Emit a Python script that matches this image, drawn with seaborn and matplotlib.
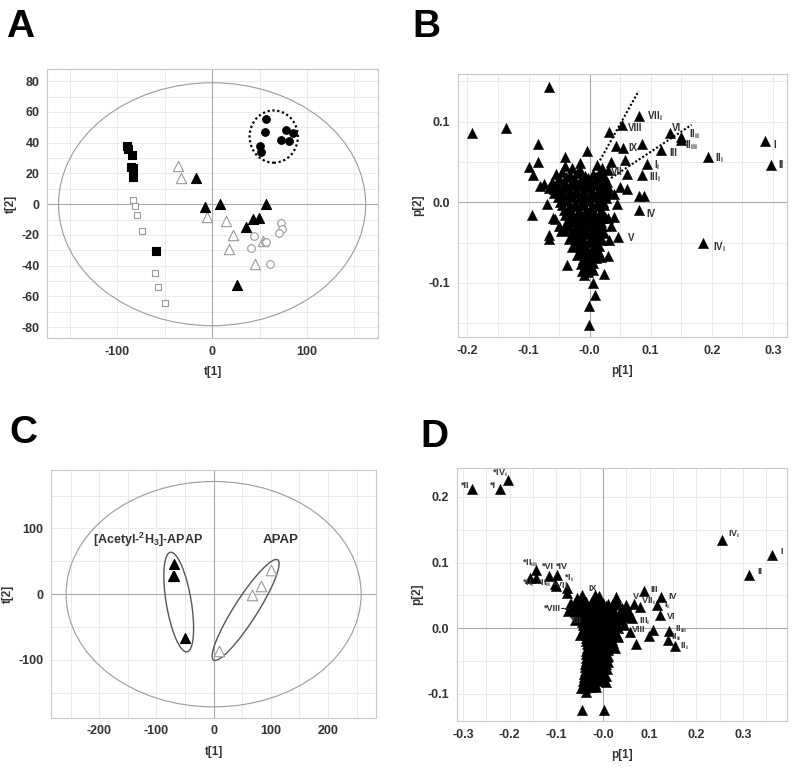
import seaborn as sns
import matplotlib.pyplot as plt
from matplotlib.patches import Ellipse
from matplotlib.ticker import MultipleLocator, FixedLocator
from matplotlib.transforms import ScaledTranslation

# ---------------- Panel A: scores ----------------
a_fsq_x = [-90, -88.5, -85, -86, -83.6, -84, -59.4]
a_fsq_y = [37.8, 35.6, 32, 24, 23.5, 17.7, -30.2]
a_osq_x = [-83.6, -81.8, -79, -74.5, -60, -56.6, -50]
a_osq_y = [2.6, -1, -7, -17.3, -45, -53.6, -64.4]
a_otri_x = [-36.4, -33.2, -4.9, 14.7, 22, 17.5, 53.8, 45]
a_otri_y = [25, 17.3, -8.6, -10.8, -20.3, -29, -23.8, -38.9]
a_ftri_x = [-17.5, -8, 8.7, 56.6, 43.4, 49, 36, 26.6]
a_ftri_y = [17.3, -1.7, 0, 0.4, -9.7, -9, -15, -52.7]
a_ocir_x = [44.4, 40.6, 55.5, 57.3, 73, 74, 70.6, 61.5]
a_ocir_y = [-20.7, -28.3, -24.8, -24.8, -12.1, -16.4, -18.4, -39.1]
a_fcir_x = [57.3, 56.3, 78.3, 85.3, 72.4, 81.5, 51, 51.7]
a_fcir_y = [55.5, 47.3, 48.6, 46.4, 41.5, 41, 37.8, 33.9]

# ---------------- Panel B: loadings ----------------
b_outliers = [(-0.0667, 0.1424), (-0.192, 0.0853), (-0.137, 0.0923), (0.2866, 0.0762),
              (0.2976, 0.0464), (0.194, 0.0563), (0.185, -0.0505), (0.0804, 0.1068),
              (0.0536, 0.0952), (0.1318, 0.0853), (0.15, 0.0803), (0.149, 0.077),
              (0.1165, 0.0646), (0.0935, 0.048), (0.0864, 0.034), (0.0553, 0.0667),
              (0.0853, 0.072), (0.0323, 0.0874), (0.0427, 0.07), (0.0355, 0.0493),
              (0.0574, 0.053), (0.0613, 0.0356), (0.081, 0.0075), (0.089, 0.0075),
              (0.081, -0.01), (0.047, -0.043), (0.0317, -0.047), (0.0306, -0.0667),
              (0.0235, -0.0894), (0.0088, -0.1147), (0.006, -0.1), (-0.001, -0.129),
              (-0.001, -0.152), (-0.037, -0.078), (-0.0088, -0.09), (-0.0935, -0.016),
              (-0.0563, -0.0203), (-0.066, -0.041), (-0.067, -0.0455), (-0.0705, -0.0017),
              (-0.1, 0.0439), (-0.0924, 0.034), (-0.0837, 0.0497), (-0.0837, 0.072),
              (-0.0405, 0.0555), (-0.0159, 0.0489), (-0.005, 0.0633), (0.0443, -0.0017),
              (0.0405, -0.0182), (0.05, 0.019), (0.0607, 0.0166), (-0.075, 0.0232),
              (-0.0815, 0.0207)]
b_cloud = [(-0.04, 0.045), (-0.028, 0.043), (0.012, 0.046), (0.02, 0.042), (-0.015, 0.04),
           (-0.055, 0.035), (-0.045, 0.037), (-0.032, 0.034), (-0.02, 0.036), (-0.008, 0.033),
           (0.005, 0.035), (0.016, 0.036), (0.024, 0.032),
           (-0.062, 0.025), (-0.05, 0.027), (-0.04, 0.024), (-0.028, 0.026), (-0.016, 0.025),
           (-0.004, 0.024), (0.008, 0.026), (0.018, 0.023), (0.028, 0.025),
           (-0.066, 0.018), (-0.058, 0.016), (-0.046, 0.014), (-0.034, 0.016), (-0.022, 0.015),
           (-0.01, 0.014), (0.002, 0.016), (0.013, 0.014), (0.024, 0.015), (0.032, 0.012),
           (-0.052, 0.006), (-0.041, 0.004), (-0.03, 0.006), (-0.018, 0.005), (-0.006, 0.004),
           (0.006, 0.006), (0.017, 0.004), (0.027, 0.005),
           (-0.045, -0.004), (-0.034, -0.006), (-0.022, -0.005), (-0.01, -0.004),
           (0.002, -0.006), (0.013, -0.005), (0.024, -0.004),
           (-0.04, -0.016), (-0.029, -0.014), (-0.018, -0.015), (-0.006, -0.016),
           (0.006, -0.014), (0.017, -0.015), (0.026, -0.018),
           (-0.038, -0.026), (-0.027, -0.024), (-0.016, -0.025), (-0.004, -0.026),
           (0.007, -0.024), (0.018, -0.025),
           (-0.042, -0.034), (-0.03, -0.036), (-0.019, -0.035), (-0.008, -0.034),
           (0.004, -0.036), (0.015, -0.035), (0.024, -0.038),
           (-0.034, -0.046), (-0.022, -0.044), (-0.011, -0.045), (0.0, -0.046),
           (0.011, -0.044), (0.02, -0.047),
           (-0.028, -0.056), (-0.017, -0.054), (-0.006, -0.055), (0.005, -0.056), (0.015, -0.054),
           (-0.02, -0.066), (-0.01, -0.064), (0.0, -0.065), (0.01, -0.066), (0.018, -0.068),
           (-0.014, -0.076), (-0.004, -0.074), (0.006, -0.075),
           (-0.012, -0.085), (-0.002, -0.086), (0.006, -0.084),
           (-0.05, -0.03), (-0.06, -0.02), (-0.046, -0.036), (0.03, -0.02), (0.035, -0.03),
           (0.04, 0.01), (0.03, 0.04)]
b_core = [(-0.05, 0.03), (-0.038, 0.031), (-0.026, 0.03), (-0.014, 0.029), (-0.002, 0.03),
          (0.01, 0.031), (0.021, 0.029),
          (-0.06, 0.021), (-0.052, 0.02), (-0.04, 0.019), (-0.028, 0.021), (-0.016, 0.02),
          (-0.004, 0.019), (0.008, 0.021), (0.02, 0.02), (0.03, 0.019),
          (-0.058, 0.011), (-0.046, 0.009), (-0.034, 0.01), (-0.022, 0.011), (-0.01, 0.009),
          (0.002, 0.01), (0.014, 0.011), (0.025, 0.009),
          (-0.048, 0.0), (-0.036, 0.001), (-0.024, -0.001), (-0.012, 0.0), (0.0, 0.001),
          (0.012, -0.001), (0.022, 0.0),
          (-0.042, -0.01), (-0.03, -0.011), (-0.018, -0.009), (-0.006, -0.01), (0.006, -0.011),
          (0.018, -0.009),
          (-0.034, -0.02), (-0.022, -0.021), (-0.01, -0.019), (0.002, -0.02), (0.013, -0.021),
          (0.022, -0.019),
          (-0.034, -0.03), (-0.022, -0.031), (-0.01, -0.029), (0.002, -0.03), (0.012, -0.031),
          (0.02, -0.029),
          (-0.028, -0.04), (-0.016, -0.041), (-0.005, -0.039), (0.006, -0.04), (0.016, -0.041),
          (-0.022, -0.05), (-0.011, -0.051), (0.0, -0.049), (0.01, -0.05),
          (-0.015, -0.06), (-0.005, -0.061), (0.005, -0.059), (0.014, -0.06),
          (-0.01, -0.07), (0.0, -0.071), (0.01, -0.069),
          (-0.008, -0.08), (0.002, -0.079)]
b_labels = [(r'VII$_{i}$', 0.0935, 0.1068), ('VIII', 0.0635, 0.0923), ('VI', 0.1357, 0.0923),
            (r'II$_{ii}$', 0.1636, 0.084), (r'II$_{iii}$', 0.1565, 0.0705), ('III', 0.1307, 0.0613),
            (r'I$_{i}$', 0.1056, 0.0464), (r'III$_{i}$', 0.0968, 0.0315), ('IX', 0.0635, 0.0667),
            ('VII', 0.0345, 0.0377), (r'II$_{i}$', 0.2057, 0.055), ('I', 0.3014, 0.0716),
            ('II', 0.31, 0.0464), ('IV', 0.0935, -0.014), ('V', 0.0624, -0.0447),
            (r'IV$_{i}$', 0.2019, -0.0555)]
b_guides = [([0.017, 0.0804], [0.052, 0.138]), ([0.035, 0.167], [0.03, 0.096])]

# ---------------- Panel C: scores ----------------
c_d3_x = [-69, -71.2, -70, -49.6]
c_d3_y = [45.7, 28, 27, -67]
c_apap_x = [100, 83.5, 66.6, 10]
c_apap_y = [37, 12.7, -1.5, -86.3]

# ---------------- Panel D: loadings ----------------
d_outliers = [(-0.281, 0.2127), (-0.22, 0.2117), (-0.2036, 0.2254), (0.2557, 0.135),
              (0.363, 0.1122), (0.314, 0.0807), (-0.143, 0.0893), (-0.157, 0.077),
              (-0.144, 0.0766), (-0.1157, 0.0797), (-0.098, 0.0817), (-0.103, 0.0665),
              (-0.1014, 0.0635), (-0.0764, 0.0614), (-0.0764, 0.0538), (-0.075, 0.0259),
              (-0.068, 0.036), (-0.059, 0.012), (-0.0179, 0.05), (-0.0086, 0.049),
              (0.0286, 0.0467), (0.03, 0.0416), (0.0886, 0.0569), (0.124, 0.0467),
              (0.0657, 0.036), (0.08, 0.032), (0.1157, 0.035), (0.1229, 0.0198),
              (0.062, 0.0152), (0.057, -0.0056), (0.107, -0.003), (0.0986, -0.0122),
              (0.1407, -0.004), (0.139, -0.0183), (0.1536, -0.0274), (0.07, -0.0244),
              (-0.0443, -0.1249), (0.003, -0.1249), (-0.046, -0.092), (-0.0357, -0.097),
              (-0.0143, -0.0893), (0.007, -0.0817), (0.047, 0.0274), (0.054, 0.017),
              (0.032, -0.013), (0.021, -0.023)]
d_cloud = [(-0.06, 0.038), (-0.048, 0.042), (-0.036, 0.04), (-0.024, 0.041), (-0.012, 0.039),
           (0.0, 0.038), (0.012, 0.036),
           (-0.066, 0.031), (-0.054, 0.029), (-0.042, 0.031), (-0.03, 0.03), (-0.018, 0.029),
           (-0.006, 0.031), (0.006, 0.029), (0.018, 0.03), (0.04, 0.03),
           (-0.05, 0.02), (-0.038, 0.019), (-0.026, 0.021), (-0.014, 0.02), (-0.002, 0.019),
           (0.01, 0.021), (0.022, 0.02), (0.034, 0.022), (0.045, 0.02),
           (-0.044, 0.01), (-0.032, 0.009), (-0.02, 0.011), (-0.008, 0.01), (0.004, 0.009),
           (0.016, 0.011), (0.028, 0.01), (0.04, 0.012),
           (-0.04, 0.0), (-0.028, -0.001), (-0.016, 0.001), (-0.004, 0.0), (0.008, -0.001),
           (0.02, 0.001), (0.032, 0.0),
           (-0.037, -0.01), (-0.025, -0.011), (-0.013, -0.009), (-0.001, -0.01), (0.011, -0.011),
           (0.024, -0.009),
           (-0.036, -0.02), (-0.024, -0.021), (-0.012, -0.019), (0.0, -0.02), (0.012, -0.021),
           (0.02, -0.018),
           (-0.035, -0.03), (-0.023, -0.031), (-0.011, -0.029), (0.001, -0.03), (0.012, -0.031),
           (-0.036, -0.04), (-0.024, -0.041), (-0.012, -0.039), (0.0, -0.04), (0.012, -0.042),
           (-0.037, -0.05), (-0.025, -0.051), (-0.013, -0.049), (-0.001, -0.05), (0.01, -0.052),
           (-0.038, -0.06), (-0.026, -0.061), (-0.014, -0.059), (-0.002, -0.06), (0.008, -0.062),
           (-0.04, -0.07), (-0.028, -0.071), (-0.016, -0.069), (-0.004, -0.07), (0.006, -0.073),
           (-0.042, -0.08), (-0.03, -0.081), (-0.018, -0.079), (-0.006, -0.08),
           (-0.038, -0.091), (-0.026, -0.09),
           (-0.07, 0.036), (-0.056, 0.046), (-0.045, 0.05), (0.05, 0.035), (0.055, 0.025),
           (0.045, 0.005), (0.03, -0.01), (0.025, -0.03), (-0.05, -0.01)]
d_core = [(-0.054, 0.035), (-0.042, 0.036), (-0.03, 0.034), (-0.018, 0.035), (-0.006, 0.036),
          (0.006, 0.034), (0.02, 0.035), (0.03, 0.036),
          (-0.06, 0.025), (-0.048, 0.026), (-0.036, 0.024), (-0.024, 0.025), (-0.012, 0.026),
          (0.0, 0.024), (0.012, 0.025), (0.024, 0.026), (0.036, 0.024),
          (-0.046, 0.015), (-0.034, 0.016), (-0.022, 0.014), (-0.01, 0.015), (0.002, 0.016),
          (0.014, 0.014), (0.026, 0.015), (0.036, 0.016),
          (-0.042, 0.005), (-0.03, 0.006), (-0.018, 0.004), (-0.006, 0.005), (0.006, 0.006),
          (0.018, 0.004), (0.03, 0.005),
          (-0.038, -0.005), (-0.026, -0.004), (-0.014, -0.006), (-0.002, -0.005), (0.01, -0.004),
          (0.022, -0.006),
          (-0.036, -0.015), (-0.024, -0.014), (-0.012, -0.016), (0.0, -0.015), (0.012, -0.014),
          (-0.035, -0.025), (-0.023, -0.024), (-0.011, -0.026), (0.001, -0.025), (0.01, -0.024),
          (-0.036, -0.035), (-0.024, -0.034), (-0.012, -0.036), (0.0, -0.035), (0.01, -0.034),
          (-0.036, -0.045), (-0.024, -0.044), (-0.012, -0.046), (0.0, -0.045), (0.009, -0.044),
          (-0.038, -0.055), (-0.026, -0.054), (-0.014, -0.056), (-0.002, -0.055), (0.006, -0.054),
          (-0.039, -0.065), (-0.027, -0.064), (-0.015, -0.066), (-0.003, -0.065),
          (-0.041, -0.075), (-0.029, -0.074), (-0.017, -0.076), (-0.005, -0.075),
          (-0.04, -0.085), (-0.028, -0.084), (-0.016, -0.086)]
d_labels = [(r'*IV$_{i}$', -0.237, 0.2365), ('*II', -0.305, 0.2178), ('*I', -0.241, 0.2178),
            (r'IV$_{i}$', 0.269, 0.1426), ('I', 0.381, 0.117), ('II', 0.331, 0.0858),
            (r'*II$_{iii}$', -0.173, 0.0985), ('*VI', -0.13, 0.0934), ('*IV', -0.1, 0.0934),
            (r'*II$_{i}$', -0.1736, 0.069), (r'*II$_{ii}$', -0.1407, 0.068),
            (r'*I$_{i}$', -0.0836, 0.0756), (r'*VII$_{i}$', -0.1086, 0.064),
            ('*VIII', -0.127, 0.03), ('*III', -0.068, 0.0122), ('IX', -0.0307, 0.0604),
            ('III', 0.1014, 0.0594), ('IV', 0.1407, 0.0477), ('V', 0.0643, 0.0487),
            (r'VII$_{i}$', 0.0807, 0.0416), (r'I$_{i}$', 0.1307, 0.035), ('VI', 0.1379, 0.0173),
            (r'III$_{i}$', 0.0764, 0.0112), ('VIII', 0.062, -0.002), (r'II$_{iii}$', 0.1536, -0.002),
            (r'II$_{ii}$', 0.146, -0.0142), (r'II$_{i}$', 0.1657, -0.0284)]
d_guide = ([-0.09, -0.075], [0.03, 0.03])

sns.set_style("white")
plt.rcParams['font.family'] = ['Liberation Sans', 'DejaVu Sans']
plt.rcParams['font.weight'] = 'bold'
plt.rcParams['axes.unicode_minus'] = False
plt.rcParams['mathtext.fontset'] = 'custom'
plt.rcParams['mathtext.rm'] = 'Liberation Sans:bold'
plt.rcParams['mathtext.it'] = 'Liberation Sans:bold'
plt.rcParams['mathtext.bf'] = 'Liberation Sans:bold'
plt.rcParams['mathtext.default'] = 'rm'

fig = plt.figure(figsize=(8, 7.71), dpi=100)
axA = fig.add_axes([0.059, 0.5616, 0.4135, 0.349])
axB = fig.add_axes([0.5725, 0.563, 0.411, 0.341])
axC = fig.add_axes([0.064, 0.0691, 0.406, 0.3213])
axD = fig.add_axes([0.571, 0.0649, 0.4125, 0.328])

TXT = '#333333'


def style(ax, xlim, ylim, xmaj, xmin, ymaj, ymin, xlab, ylab, xticklabels=None, yticklabels=None):
    ax.set_xlim(xlim)
    ax.set_ylim(ylim)
    ax.xaxis.set_major_locator(FixedLocator(xmaj))
    ax.yaxis.set_major_locator(FixedLocator(ymaj))
    ax.xaxis.set_minor_locator(MultipleLocator(xmin))
    ax.yaxis.set_minor_locator(MultipleLocator(ymin))
    if xticklabels:
        ax.set_xticklabels(xticklabels)
    if yticklabels:
        ax.set_yticklabels(yticklabels)
    ax.grid(True, which='both', color='#e6e6e6', lw=0.6, zorder=0)
    ax.set_axisbelow(True)
    ax.axhline(0, color='#a8a8a8', lw=0.8, zorder=1)
    ax.axvline(0, color='#a8a8a8', lw=0.8, zorder=1)
    for s in ax.spines.values():
        s.set_color('#c8c8c8')
        s.set_linewidth(0.8)
    ax.tick_params(which='both', length=2.5, color='#c8c8c8', labelsize=9,
                   labelcolor=TXT, pad=3, direction='out')
    ax.set_xlabel(xlab, fontsize=8.5, fontweight='bold', color=TXT, labelpad=6)
    ax.set_ylabel(ylab, fontsize=8.5, fontweight='bold', color=TXT, labelpad=3)
    for t in ax.get_xticklabels() + ax.get_yticklabels():
        t.set_fontweight('bold')


def pts(ax, x, y, marker, face, edge, s, lw=0.8):
    sns.scatterplot(x=x, y=y, marker=marker, color=face, edgecolor=edge, s=s,
                    linewidth=lw, ax=ax, zorder=3, legend=False)


# ---- A ----
style(axA, (-174, 175), (-87, 88), [-100, 0, 100], 50, [-80, -60, -40, -20, 0, 20, 40, 60, 80], 10,
      't[1]', 't[2]')
axA.add_patch(Ellipse((0, 0), 324, 158, fill=False, ec='#9a9a9a', lw=0.8, zorder=2))
pts(axA, a_osq_x, a_osq_y, 's', 'white', '#9a9a9a', 24)
pts(axA, a_fsq_x, a_fsq_y, 's', 'black', 'black', 26)
pts(axA, a_otri_x, a_otri_y, '^', 'white', '#9a9a9a', 55)
pts(axA, a_ftri_x, a_ftri_y, '^', 'black', 'black', 52)
pts(axA, a_ocir_x, a_ocir_y, 'o', 'white', '#9a9a9a', 30)
pts(axA, a_fcir_x, a_fcir_y, 'o', 'black', 'black', 30)
axA.add_patch(Ellipse((65, 44), 51, 34, fill=False, ec='black', ls=(0, (1, 1.2)), lw=1.6, zorder=4))

# ---- B ----
style(axB, (-0.2155, 0.323), (-0.167, 0.159), [-0.2, -0.1, 0.0, 0.1, 0.2, 0.3], 0.05,
      [-0.1, 0.0, 0.1], 0.05, 'p[1]', 'p[2]',
      ['-0.2', '-0.1', '-0.0', '0.1', '0.2', '0.3'], ['-0.1', '0.0', '0.1'])
b_all = b_outliers + b_cloud + b_core
pts(axB, [p[0] for p in b_all], [p[1] for p in b_all], '^', 'black', 'black', 55, 0.3)
for gx, gy in b_guides:
    axB.plot(gx, gy, ls=(0, (1, 1)), color='black', lw=1.5, zorder=4)
for lab, x, y in b_labels:
    axB.text(x, y, lab, fontsize=7, fontweight='bold', color=TXT, va='center', ha='left', zorder=5)

# ---- C ----
style(axC, (-284, 284), (-188, 189), [-200, -100, 0, 100, 200], 50, [-100, 0, 100], 50,
      't[1]', 't[2]')
axC.add_patch(Ellipse((0, 0), 516, 343, fill=False, ec='#9a9a9a', lw=0.8, zorder=2))
for cx, cy, w, h, ang in [(-61, -12, 1.01, 0.25, 99.5), (56, -24, 1.19, 0.23, 57.4)]:
    tr = fig.dpi_scale_trans + ScaledTranslation(cx, cy, axC.transData)
    axC.add_patch(Ellipse((0, 0), w, h, angle=ang, fill=False, ec='#555555', lw=1.0,
                          transform=tr, zorder=2))
pts(axC, c_d3_x, c_d3_y, '^', 'black', 'black', 52)
pts(axC, c_apap_x, c_apap_y, '^', 'white', '#9a9a9a', 58)
axC.text(-115, 82, r'[Acetyl-$^{2}$H$_{3}$]-APAP', fontsize=9, fontweight='bold',
         color=TXT, ha='center', va='center')
axC.text(117, 82, 'APAP', fontsize=9.5, fontweight='bold', color=TXT, ha='center', va='center')

# ---- D ----
style(axD, (-0.313, 0.394), (-0.1416, 0.244), [-0.3, -0.2, -0.1, 0.0, 0.1, 0.2, 0.3], 0.05,
      [-0.1, 0.0, 0.1, 0.2], 0.05, 'p[1]', 'p[2]',
      ['-0.3', '-0.2', '-0.1', '-0.0', '0.1', '0.2', '0.3'], ['-0.1', '0.0', '0.1', '0.2'])
d_all = d_outliers + d_cloud + d_core
pts(axD, [p[0] for p in d_all], [p[1] for p in d_all], '^', 'black', 'black', 55, 0.3)
axD.plot(d_guide[0], d_guide[1], color='#333333', lw=0.8, zorder=4)
for lab, x, y in d_labels:
    axD.text(x, y, lab, fontsize=6.5, fontweight='bold', color=TXT, va='center', ha='left', zorder=5)

# panel letters
for letter, x, y in [('A', 0.008, 0.965), ('B', 0.516, 0.965), ('C', 0.012, 0.438), ('D', 0.526, 0.433)]:
    fig.text(x, y, letter, fontsize=28, fontweight='bold', color='black', va='center', ha='left')

fig.savefig('out.png', dpi=100)
